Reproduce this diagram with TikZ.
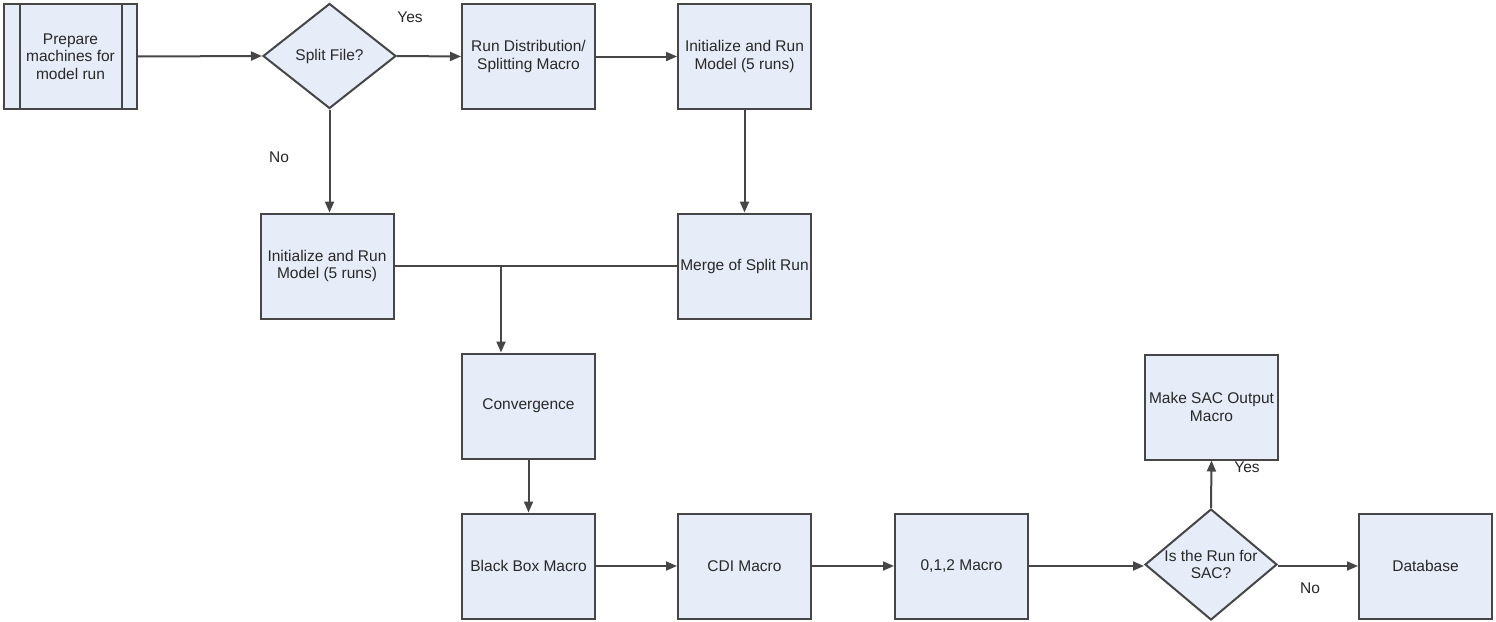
\documentclass[tikz,border=0pt]{standalone}
\usepackage{fontspec}
\setmainfont{Liberation Sans}
\usetikzlibrary{shapes.geometric,arrows.meta}
\definecolor{boxfill}{RGB}{230,236,248}
\definecolor{boxline}{RGB}{70,70,70}
\definecolor{txt}{RGB}{40,40,40}
\tikzset{
  procbox/.style={draw=boxline, fill=boxfill, line width=2pt, minimum width=133pt, minimum height=105pt, inner sep=2pt, align=center, text=txt, font=\fontsize{15.5}{17.5}\selectfont},
  decision/.style={draw=boxline, fill=boxfill, line width=2pt, shape=diamond, inner sep=0pt, minimum width=133pt, minimum height=105pt},
  dtext/.style={align=center, text=txt, font=\fontsize{15.5}{17.5}\selectfont},
  lbl/.style={text=txt, font=\fontsize{15.5}{17.5}\selectfont},
  conn/.style={draw=boxline, line width=2pt},
  arr/.style={conn, -{Triangle[length=11pt,width=9pt]}}
}
\begin{document}
\begin{tikzpicture}[x=1pt,y=-1pt]
\useasboundingbox (0,0) rectangle (1496,621);
\fill[white] (0,0) rectangle (1496,621);
% nodes
\node[procbox] (prep) at (70.5,56.5) {Prepare\\machines for\\model run};
\draw[conn] ([xshift=17pt]prep.north west) -- ([xshift=17pt]prep.south west);
\draw[conn] ([xshift=-16pt]prep.north east) -- ([xshift=-16pt]prep.south east);
\node[decision] (split) at (329.5,56) {};
\node[dtext] (splitt) at (split.center) {Split File?};
\node[procbox] (dist) at (528.5,56.5) {Run Distribution/\\Splitting Macro};
\node[procbox] (initR) at (744.5,56.5) {Initialize and Run\\Model (5 runs)};
\node[procbox] (initL) at (327,266) {Initialize and Run\\Model (5 runs)};
\node[procbox] (merge) at (744.5,266) {Merge of Split Run};
\node[procbox] (conv) at (528.5,406) {Convergence};
\node[procbox] (bbox) at (528.5,566) {Black Box Macro};
\node[procbox] (cdi) at (744.5,566) {CDI Macro};
\node[procbox] (m012) at (961.5,566) {0,1,2 Macro};
\node[decision, minimum width=132pt, minimum height=111pt] (sac) at (1211,564.5) {};
\node[dtext] (sact) at (sac.center) {Is the Run for\\SAC?};
\node[procbox] (db) at (1425.5,566) {Database};
\node[procbox] (mksac) at (1211.5,407) {Make SAC Output\\Macro};
\coordinate (j) at (501,266);
% labels
\node[lbl] (yes1) at (410,17) {Yes};
\node[lbl] (no1) at (279,157) {No};
\node[lbl] (yes2) at (1247,467) {Yes};
\node[lbl] (no2) at (1310,588) {No};
% connectors
\draw[arr] (prep.east) -- (split.west);
\draw[arr] (split.east) -- (dist.west);
\draw[arr] (split.south) -- (split.south |- initL.north);
\draw[arr] (dist.east) -- (initR.west);
\draw[arr] (initR.south) -- (merge.north);
\draw[conn] (initL.east) -- (merge.west);
\draw[arr] (j) -- (j |- conv.north);
\draw[arr] (conv.south) -- (bbox.north);
\draw[arr] (bbox.east) -- (cdi.west);
\draw[arr] (cdi.east) -- (m012.west);
\draw[arr] (m012.east) -- (m012.east -| sac.west);
\draw[arr] (sac.east |- db.west) -- (db.west);
\draw[arr] (sac.north) -- (mksac.south);
\end{tikzpicture}
\end{document}
